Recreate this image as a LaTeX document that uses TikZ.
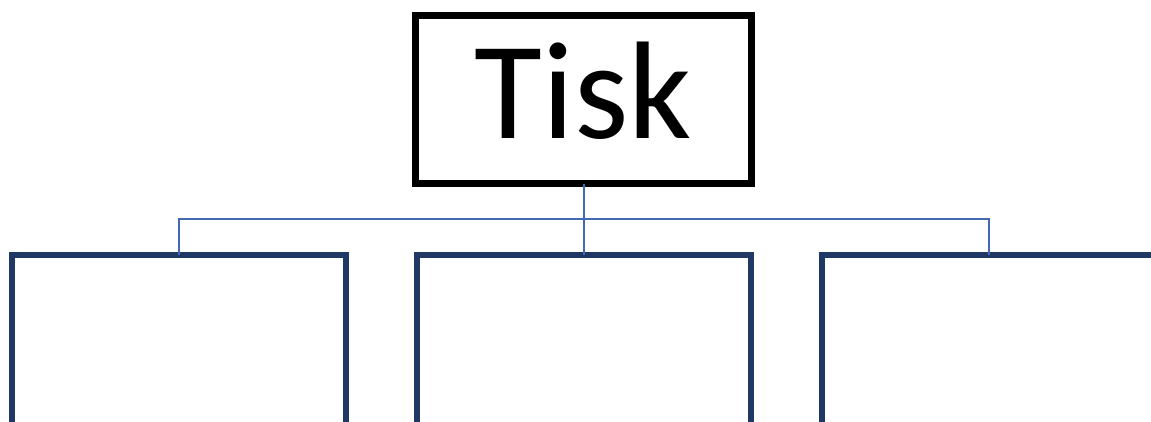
\documentclass[tikz,border=0pt]{standalone}
\usepackage{fontspec}
\setmainfont{Carlito}
\definecolor{navy}{RGB}{31,56,100}
\definecolor{linkblue}{RGB}{65,105,180}
\tikzset{
  topbox/.style={draw=black, line width=7pt, fill=white, anchor=north west,
    minimum width=336pt, minimum height=168.5pt, inner sep=0pt, outer sep=0pt,
    font=\fontsize{139pt}{139pt}\selectfont, text height=77.5pt, text depth=0pt},
  childbox/.style={draw=navy, line width=6pt, fill=white, anchor=north west,
    minimum width=334.5pt, minimum height=220pt, inner sep=0pt, outer sep=0pt},
  link/.style={draw=linkblue, line width=2pt}
}
\begin{document}
\begin{tikzpicture}[x=1pt,y=-1pt]
\useasboundingbox (0,0) rectangle (1151,421);
\clip (0,0) rectangle (1151,421);
\coordinate (bus) at (583.5,219);
\node[topbox] (top) at (415.5,15) {Tisk};
\node[childbox] (c1) at (11.5,254.5) {};
\node[childbox] (c2) at (416.5,254.5) {};
\node[childbox] (c3) at (822,254.5) {};
\draw[link] (top.south) -- (bus);
\draw[link] (bus) -| (c1.north);
\draw[link] (bus) -| (c2.north);
\draw[link] (bus) -| (c3.north);
\end{tikzpicture}
\end{document}
